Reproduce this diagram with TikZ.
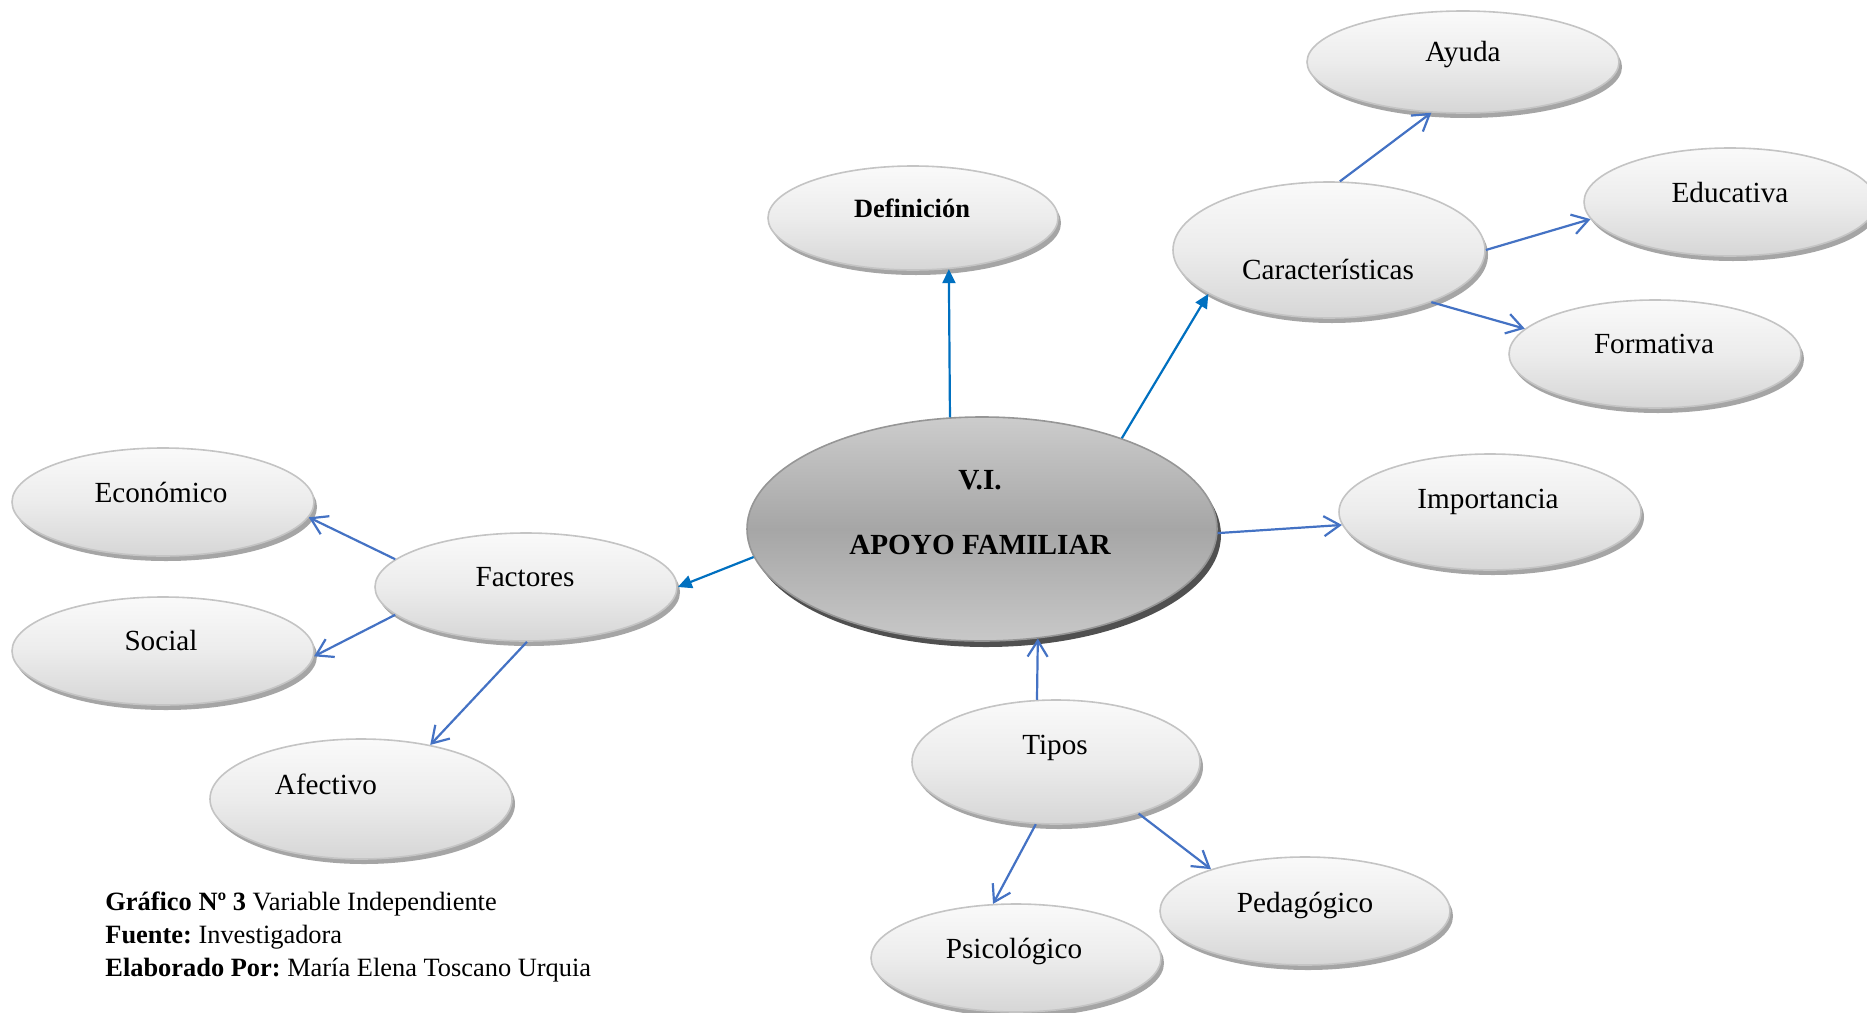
\documentclass[tikz,border=0pt]{standalone}
\usepackage{fontspec}
\setmainfont{Liberation Serif}
\usetikzlibrary{shapes.geometric,shadows,arrows.meta}
\definecolor{ellTop}{RGB}{250,250,250}
\definecolor{ellMid}{RGB}{236,236,236}
\definecolor{ellBot}{RGB}{214,214,214}
\definecolor{ellLine}{RGB}{196,196,196}
\definecolor{ellShadow}{RGB}{165,165,165}
\definecolor{cTop}{RGB}{204,204,204}
\definecolor{cMid}{RGB}{166,166,166}
\definecolor{cBot}{RGB}{200,200,200}
\definecolor{cLine}{RGB}{150,150,150}
\definecolor{cShadow}{RGB}{80,80,80}
\definecolor{darkblue}{RGB}{0,112,192}
\definecolor{lightblue}{RGB}{68,114,196}
\frenchspacing
\begin{document}
\begin{tikzpicture}[x=0.5pt,y=-0.5pt,
  bubble/.style={ellipse, draw=ellLine, line width=0.8pt, top color=ellTop, bottom color=ellBot, middle color=ellMid, inner sep=0pt,
    drop shadow={shadow xshift=1.5pt, shadow yshift=-2.5pt, fill=ellShadow, opacity=1}},
  centerbubble/.style={ellipse, draw=cLine, line width=0.8pt, top color=cTop, bottom color=cBot, middle color=cMid, inner sep=0pt,
    drop shadow={shadow xshift=2pt, shadow yshift=-3pt, fill=cShadow, opacity=1}},
  txt/.style={font=\fontsize{14.6}{17}\selectfont, inner sep=0pt, text height=9.6pt, text depth=0pt},
  farrow/.style={draw=darkblue, line width=1.1pt, -{Triangle[length=7pt,width=6.5pt]}},
  oarrow/.style={draw=lightblue, line width=1.1pt, -{Straight Barb[length=8pt,width=10pt]}}
]
\fill[white] (0,0) rectangle (1867,1012);
\useasboundingbox (0,0) rectangle (1867,1012);

% ellipses
\node[centerbubble, minimum width=235pt, minimum height=112pt] (C) at (982,529) {};
\node[bubble, minimum width=145pt, minimum height=52pt] (Def) at (913,218) {};
\node[bubble, minimum width=156pt, minimum height=68pt] (Car) at (1329,250) {};
\node[bubble, minimum width=156pt, minimum height=51pt] (Ayu) at (1463,62) {};
\node[bubble, minimum width=146pt, minimum height=54pt] (Edu) at (1730,202) {};
\node[bubble, minimum width=146pt, minimum height=54pt] (For) at (1655,354) {};
\node[bubble, minimum width=151pt, minimum height=58pt] (Imp) at (1490,512) {};
\node[bubble, minimum width=151pt, minimum height=54pt] (Fac) at (526,587) {};
\node[bubble, minimum width=151pt, minimum height=54pt] (Eco) at (163,502) {};
\node[bubble, minimum width=151pt, minimum height=54pt] (Soc) at (163,651) {};
\node[bubble, minimum width=151pt, minimum height=60pt] (Afe) at (361,799) {};
\node[bubble, minimum width=144pt, minimum height=62pt] (Tip) at (1056,762) {};
\node[bubble, minimum width=145pt, minimum height=54pt] (Psi) at (1016,958) {};
\node[bubble, minimum width=145pt, minimum height=54pt] (Ped) at (1305,911) {};

% texts
\node[txt] (tAyu) at (1463,52) {Ayuda};
\node[txt, font=\fontsize{13.2}{16}\selectfont\bfseries] (tDef) at (912,208) {Definición};
\node[txt] (tCar) at (1328,270) {Características};
\node[txt] (tEdu) at (1730,193) {Educativa};
\node[txt] (tFor) at (1654,344) {Formativa};
\node[txt] (tImp) at (1488,499) {Importancia};
\node[txt, font=\fontsize{14.6}{17}\selectfont\bfseries] (tVI) at (980,480) {V.I.};
\node[txt, font=\fontsize{14.6}{17}\selectfont\bfseries] (tApo) at (980,545) {APOYO FAMILIAR};
\node[txt] (tFac) at (525,577) {Factores};
\node[txt] (tEco) at (161,493) {Económico};
\node[txt] (tSoc) at (161,641) {Social};
\node[txt] (tAfe) at (326,785) {Afectivo};
\node[txt] (tTip) at (1055,745) {Tipos};
\node[txt] (tPsi) at (1014,949) {Psicológico};
\node[txt] (tPed) at (1305,903) {Pedagógico};

% connectors
\draw[farrow] (C.106) -- (Def.-55);
\draw[farrow] (C.33) -- (Car.-160);
\draw[oarrow] (C.-1) -- (Imp.185);
\draw[farrow] (C.187) -- (Fac.0);
\draw[oarrow] (Tip.107) -- (C.-63);
\draw[oarrow] (Car.81) -- (Ayu.-122);
\draw[oarrow] (Car.0) -- (Edu.187);
\draw[oarrow] (Car.-27) -- (For.169);
\draw[oarrow] (Fac.168) -- (Eco.-6);
\draw[oarrow] (Fac.192) -- (Soc.-2);
\draw[oarrow] (Fac.-89) -- (Afe.38);
\draw[oarrow] (Tip.-108) -- (Psi.113);
\draw[oarrow] (Tip.-32) -- (Ped.156);

% caption
\node[anchor=west, align=left, inner sep=0pt, font=\fontsize{13.2}{16.3}\selectfont] (cap) at (105,937)
  {\textbf{Gráfico Nº 3} Variable Independiente\\
   \textbf{Fuente:} Investigadora\\
   \textbf{Elaborado Por:} María Elena Toscano Urquia};
\end{tikzpicture}
\end{document}
